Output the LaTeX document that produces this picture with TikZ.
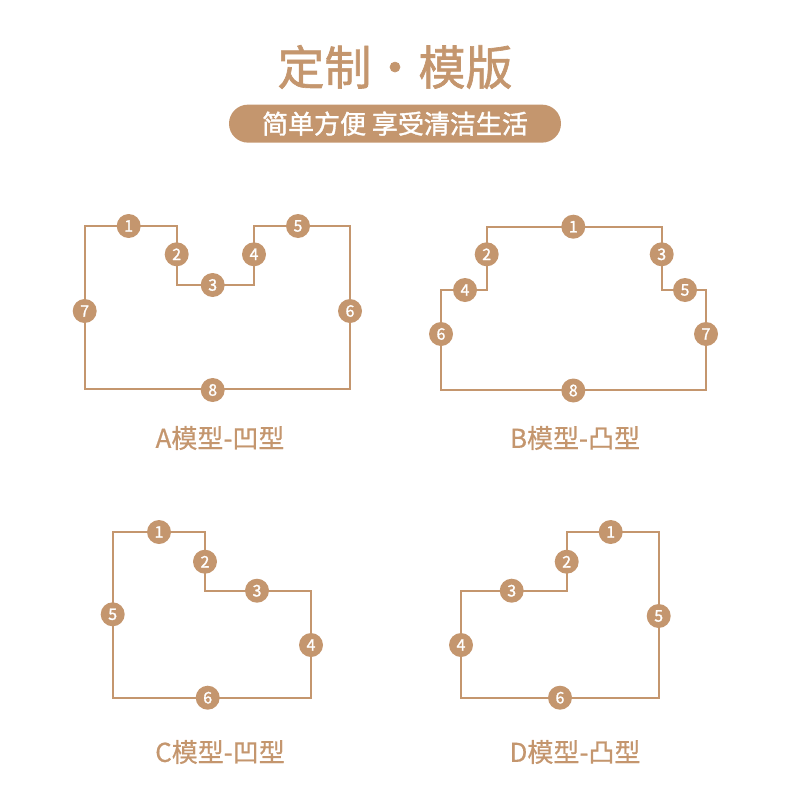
\documentclass[tikz,border=0pt]{standalone}
\usepackage{fontspec}
\newfontfamily\cjk{Noto Sans CJK SC}
\newfontfamily\cjkmed{Noto Sans CJK SC}[FakeBold=1.4]
\newfontfamily\cjklab{Noto Sans CJK SC}[FakeBold=0.6]
\usetikzlibrary{positioning}
\definecolor{tan}{RGB}{196,150,110}

\begin{document}
\begin{tikzpicture}[
  x=1pt, y=-1pt,
  font=\cjk,
  outline/.style={draw=tan, line width=2pt},
  num/.style={circle, fill=tan, text=white, minimum size=24pt, inner sep=0pt,
              font=\cjkmed\fontsize{16}{16}\selectfont},
  modelname/.style={text=tan, font=\cjklab\fontsize{26}{26}\selectfont}]

\useasboundingbox (0,0) rectangle (790,803);

% Heading
\node[text=tan, font=\cjkmed\fontsize{47}{47}\selectfont] (title) at (395,67) {定制·模版};
\node[fill=tan, rounded corners=19pt, minimum width=332pt, minimum height=38pt,
      text=white, font=\cjkmed\fontsize{26}{26}\selectfont, below=12pt of title] (tag)
      {简单方便 享受清洁生活};

% Model A
\draw[outline] (84.7,225.7) -- (176.7,225.7) -- (176.7,285) -- (254,285) -- (254,225.7)
  -- (350,225.7) -- (350,388.7) -- (84.7,388.7) -- cycle;
\node[num] (a1) at (128.7,226) {1};
\node[num] (a2) at (176.7,254.3) {2};
\node[num] (a3) at (212.7,285) {3};
\node[num] (a4) at (254,254.3) {4};
\node[num] (a5) at (298,226) {5};
\node[num] (a6) at (350,311) {6};
\node[num] (a7) at (84.7,311) {7};
\node[num] (a8) at (212.7,390) {8};
\node[modelname] (la) at (220,438) {A模型-凹型};

% Model B
\draw[outline] (486.7,226.7) -- (661.7,226.7) -- (661.7,290) -- (706,290) -- (706,390)
  -- (441,390) -- (441,290) -- (486.7,290) -- cycle;
\node[num] (b1) at (573.3,226.7) {1};
\node[num] (b2) at (486.7,254.3) {2};
\node[num] (b3) at (661.7,254.3) {3};
\node[num] (b4) at (465,290) {4};
\node[num] (b5) at (685,290) {5};
\node[num] (b6) at (441,334) {6};
\node[num] (b7) at (706,334) {7};
\node[num] (b8) at (573.3,390.5) {8};
\node[modelname] (lb) at (575,438) {B模型-凸型};

% Model C
\draw[outline] (112.7,532) -- (205,532) -- (205,590.7) -- (311,590.7) -- (311,697.7)
  -- (112.7,697.7) -- cycle;
\node[num] (c1) at (159,532) {1};
\node[num] (c2) at (205,561.7) {2};
\node[num] (c3) at (257,590.7) {3};
\node[num] (c4) at (311,645) {4};
\node[num] (c5) at (112.7,614.3) {5};
\node[num] (c6) at (207.7,697.7) {6};
\node[modelname] (lc) at (220,752) {C模型-凹型};

% Model D
\draw[outline] (566.7,532) -- (658.7,532) -- (658.7,697.7) -- (461,697.7) -- (461,590.7)
  -- (566.7,590.7) -- cycle;
\node[num] (d1) at (610.7,532) {1};
\node[num] (d2) at (566.7,561.7) {2};
\node[num] (d3) at (511.7,590.7) {3};
\node[num] (d4) at (461,645) {4};
\node[num] (d5) at (658.7,616) {5};
\node[num] (d6) at (560,697.7) {6};
\node[modelname] (ld) at (575,752) {D模型-凸型};
\end{tikzpicture}
\end{document}
